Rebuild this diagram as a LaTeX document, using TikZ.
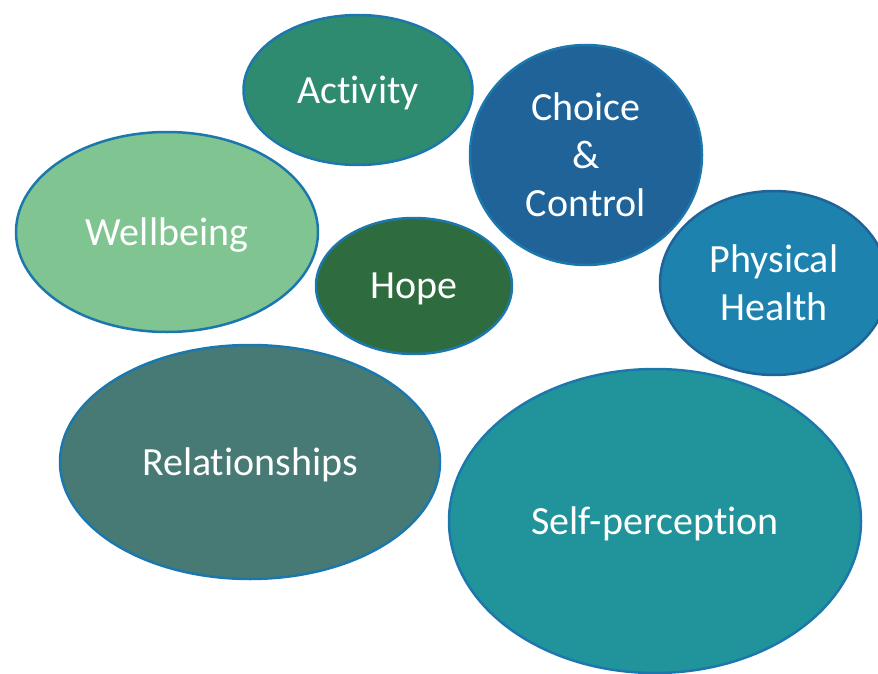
\documentclass[tikz,border=0pt]{standalone}
\usepackage{fontspec}
\setmainfont[Ligatures=CommonOff]{Carlito}
\usetikzlibrary{shapes.geometric}

\definecolor{activitycol}{HTML}{2E8B6F}
\definecolor{choicecol}{HTML}{1F6398}
\definecolor{wellcol}{HTML}{80C492}
\definecolor{hopecol}{HTML}{2E6B3E}
\definecolor{physcol}{HTML}{1D82AE}
\definecolor{relcol}{HTML}{477A74}
\definecolor{selfcol}{HTML}{21939A}
\definecolor{rimcol}{HTML}{1C78AC}

\tikzset{
  bubble/.style={ellipse, draw=rimcol, line width=2.5pt, inner sep=0pt,
    text=white, align=center, text depth=0pt, font=\fontsize{40}{48}\selectfont},
}

\begin{document}
\begin{tikzpicture}[x=1pt,y=-1pt]
  \useasboundingbox (0,0) rectangle (878,674);
  % bubbles, sized in pixels of the page
  \node[bubble, fill=activitycol, minimum width=229, minimum height=150] (activity) at (358,90) {Activity};
  \node[bubble, fill=choicecol, minimum width=232, minimum height=220] (choice) at (586,155) {Choice\\\&\\Control};
  \node[bubble, fill=wellcol, minimum width=302, minimum height=200] (wellbeing) at (167,232) {Wellbeing};
  \node[bubble, fill=hopecol, minimum width=196, minimum height=136] (hope) at (414,286) {Hope};
  \node[bubble, fill=physcol, draw=choicecol, minimum width=228, minimum height=184] (physical) at (774,283) {Physical\\Health};
  \node[bubble, fill=relcol, minimum width=380, minimum height=234] (relations) at (250,462) {Relationships};
  \node[bubble, fill=selfcol, minimum width=412, minimum height=304] (selfp) at (655,521) {Self-perception};
\end{tikzpicture}
\end{document}
